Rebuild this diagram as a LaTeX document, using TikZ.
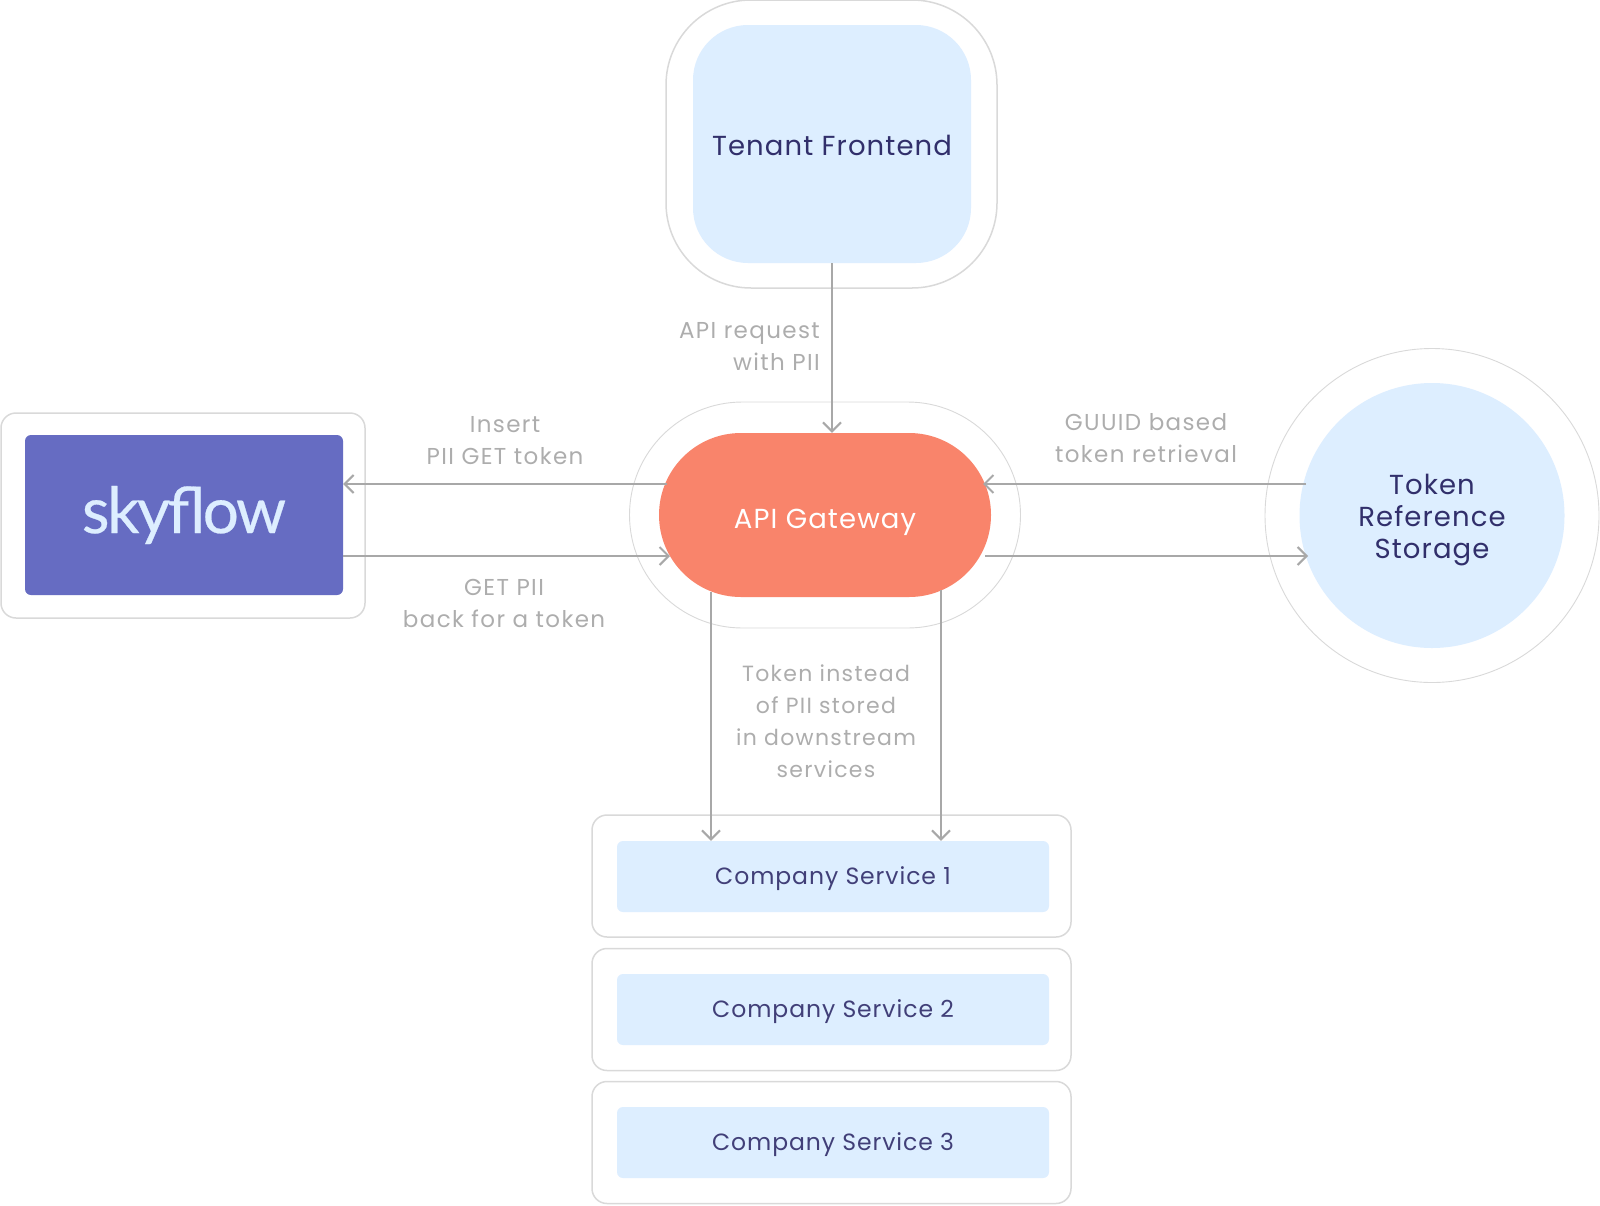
\documentclass[tikz,border=0pt]{standalone}
\usepackage{fontspec}
\usetikzlibrary{arrows.meta}
\setmainfont{Poppins}
\newfontfamily\lightfam{Poppins}[LetterSpace=6]
\newfontfamily\mainfam{Poppins}[LetterSpace=4]
\newfontfamily\logofam{Lato}[LetterSpace=-4,FakeBold=0.4]
\definecolor{paleblue}{HTML}{DDEEFF}
\definecolor{ink}{HTML}{312F6B}
\definecolor{inksoft}{HTML}{413F78}
\definecolor{rim}{HTML}{D9D9D9}
\definecolor{wire}{HTML}{A8A8A8}
\definecolor{labelgray}{HTML}{ADADAD}
\definecolor{sky}{HTML}{666CC2}
\definecolor{coral}{HTML}{F9846B}
\tikzset{
  plate/.style={draw=rim,line width=1.5pt,fill=white,inner sep=0pt},
  thinplate/.style={plate,line width=0.9pt},
  pane/.style={fill=paleblue,inner sep=0pt},
  bigtext/.style={inner sep=0pt,text=ink,align=center,font=\mainfam\fontsize{27.5}{32}\selectfont},
  svc/.style={pane,minimum width=432pt,minimum height=71pt,rounded corners=6pt},
  svctext/.style={inner sep=0pt,text=inksoft,font=\mainfam\fontsize{23.5}{32}\selectfont},
  svcrim/.style={plate,minimum width=479pt,minimum height=122pt,rounded corners=15pt},
  lab/.style={inner sep=0pt,text=labelgray,align=center,font=\lightfam\fontsize{23}{32}\selectfont},
  wirepath/.style={draw=wire,line width=2pt,-{Straight Barb[length=9pt,width=18pt,line width=2pt]}}
}
\begin{document}
\begin{tikzpicture}[x=1pt,y=-1pt]
\useasboundingbox (0,0) rectangle (1600,1205);
% outer plates
\node[plate,minimum width=331pt,minimum height=288pt,rounded corners=85pt] (frontrim) at (831.5,144) {};
\node[plate,minimum width=364pt,minimum height=205pt,rounded corners=15pt] (skyrim) at (183,515.5) {};
\node[thinplate,minimum width=391pt,minimum height=226pt,rounded corners=113pt] (gwrim) at (825,515) {};
\node[thinplate,circle,minimum size=334pt] (tokrim) at (1432,515.5) {};
\node[svcrim] (rim1) at (831.5,876) {};
\node[svcrim] (rim2) at (831.5,1009.5) {};
\node[svcrim] (rim3) at (831.5,1142.5) {};
% inner shapes
\node[pane,minimum width=278pt,minimum height=238pt,rounded corners=55pt] (front) at (832,144) {};
\node[bigtext] (fronttext) at (832,145) {Tenant Frontend};
\node[inner sep=0pt,fill=sky,minimum width=318pt,minimum height=160pt,rounded corners=6pt,text=paleblue,font=\logofam\fontsize{64}{70}\selectfont] (sky) at (184,515) {skyflow};
\node[inner sep=0pt,fill=coral,minimum width=332pt,minimum height=164pt,rounded corners=82pt] (gw) at (825,515) {};
\node[bigtext,text=white] (gwtext) at (825,522) {API Gateway};
\node[pane,circle,minimum size=265pt] (tok) at (1432,515.5) {};
\node[bigtext] (toktext) at (1432,520) {Token\\Reference\\Storage};
\node[svc] (s1) at (833,876.5) {};
\node[svc] (s2) at (833,1009.5) {};
\node[svc] (s3) at (833,1142.5) {};
\node[svctext] (s1text) at (833,879) {Company Service 1};
\node[svctext] (s2text) at (833,1012) {Company Service 2};
\node[svctext] (s3text) at (833,1145) {Company Service 3};
% labels
\node[lab] (l1) at (505,441) {Insert\\PII GET token};
\node[lab] (l2) at (504,603) {GET PII\\back for a token};
\node[lab,align=right,anchor=east] (l3) at (820,346.5) {API request\\with PII};
\node[lab] (l4) at (1146,438) {GUUID based\\token retrieval};
\node[lab,font=\lightfam\fontsize{22}{32}\selectfont] (l5) at (826,721) {Token instead\\of PII stored\\in downstream\\services};
% connector anchors
\coordinate (gwL) at (667,484);
\coordinate (gwLb) at (670,556);
\coordinate (gwR) at (983,484);
\coordinate (gwRb) at (985,556);
\coordinate (gwB1) at (711,592);
\coordinate (gwB2) at (941,590);
\coordinate (tokR) at (1306,484);
\coordinate (tokRb) at (1308,556);
% connectors
\draw[wirepath] (front.south) -- (front.south |- gw.north);
\draw[wirepath] (gwL) -- (gwL -| sky.east);
\draw[wirepath] (sky.east |- gwLb) -- (gwLb);
\draw[wirepath] (tokR) -- (gwR);
\draw[wirepath] (gwRb) -- (tokRb);
\draw[wirepath] (gwB1) -- (gwB1 |- s1.north);
\draw[wirepath] (gwB2) -- (gwB2 |- s1.north);
\end{tikzpicture}
\end{document}
